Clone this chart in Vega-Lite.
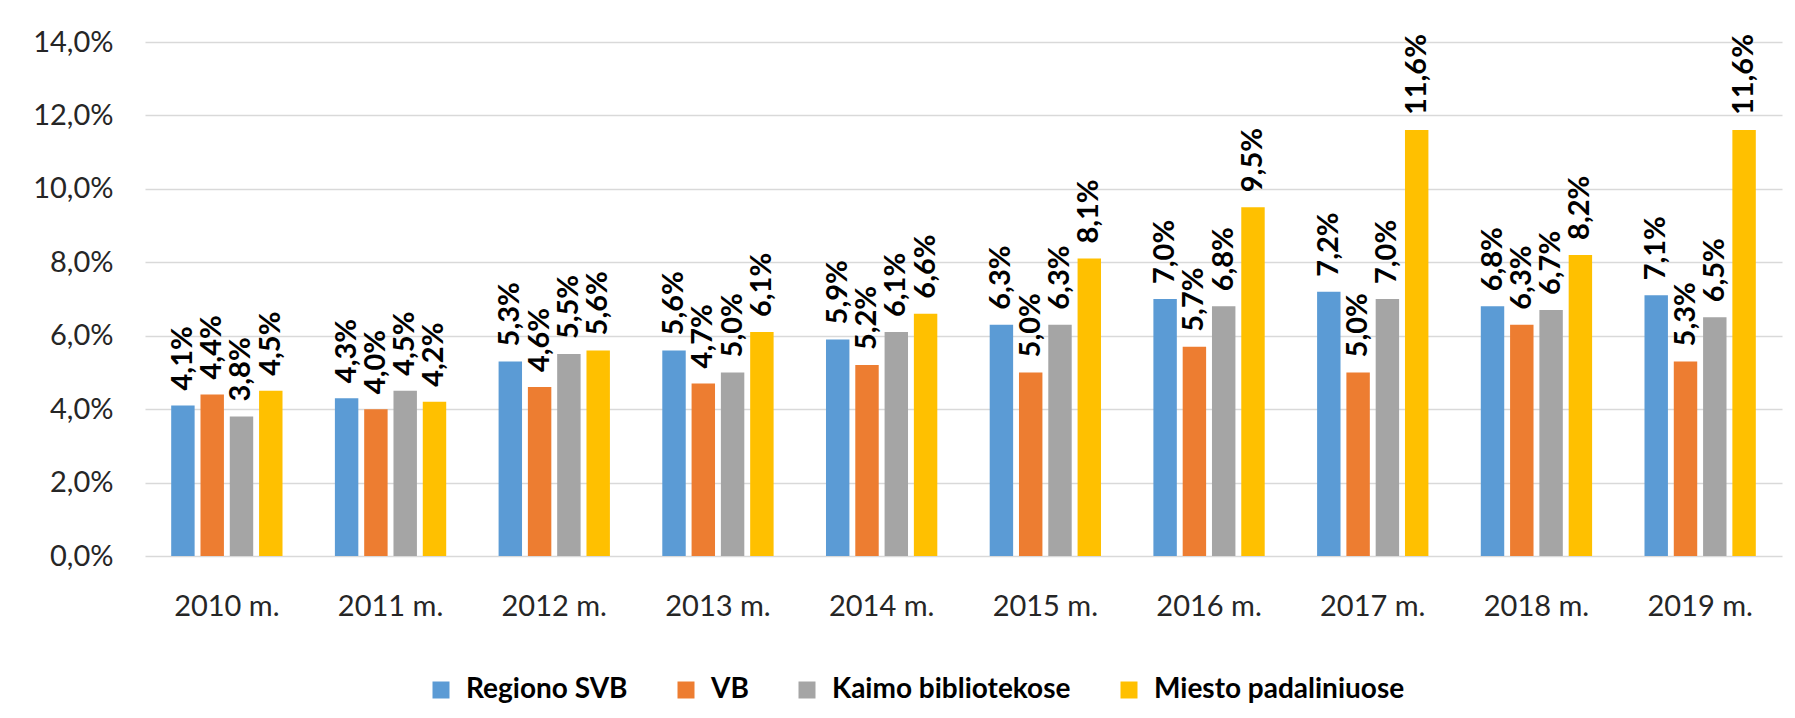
{
  "$schema": "https://vega.github.io/schema/vega-lite/v6.json",
  "width": 1637,
  "height": 514,
  "autosize": {"type": "none"},
  "padding": {"left": 145, "top": 42, "right": 13, "bottom": 162},
  "background": "white",
  "config": {
    "locale": {"number": {"decimal": ",", "thousands": " ", "grouping": [3], "currency": ["", " €"]}},
    "view": {"stroke": null},
    "font": "Lato"
  },
  "data": {
    "values": [
      {"year": "2010 m.", "series": "Regiono SVB", "value": 0.041},
      {"year": "2010 m.", "series": "VB", "value": 0.044},
      {"year": "2010 m.", "series": "Kaimo bibliotekose", "value": 0.038},
      {"year": "2010 m.", "series": "Miesto padaliniuose", "value": 0.045},
      {"year": "2011 m.", "series": "Regiono SVB", "value": 0.043},
      {"year": "2011 m.", "series": "VB", "value": 0.040},
      {"year": "2011 m.", "series": "Kaimo bibliotekose", "value": 0.045},
      {"year": "2011 m.", "series": "Miesto padaliniuose", "value": 0.042},
      {"year": "2012 m.", "series": "Regiono SVB", "value": 0.053},
      {"year": "2012 m.", "series": "VB", "value": 0.046},
      {"year": "2012 m.", "series": "Kaimo bibliotekose", "value": 0.055},
      {"year": "2012 m.", "series": "Miesto padaliniuose", "value": 0.056},
      {"year": "2013 m.", "series": "Regiono SVB", "value": 0.056},
      {"year": "2013 m.", "series": "VB", "value": 0.047},
      {"year": "2013 m.", "series": "Kaimo bibliotekose", "value": 0.050},
      {"year": "2013 m.", "series": "Miesto padaliniuose", "value": 0.061},
      {"year": "2014 m.", "series": "Regiono SVB", "value": 0.059},
      {"year": "2014 m.", "series": "VB", "value": 0.052},
      {"year": "2014 m.", "series": "Kaimo bibliotekose", "value": 0.061},
      {"year": "2014 m.", "series": "Miesto padaliniuose", "value": 0.066},
      {"year": "2015 m.", "series": "Regiono SVB", "value": 0.063},
      {"year": "2015 m.", "series": "VB", "value": 0.050},
      {"year": "2015 m.", "series": "Kaimo bibliotekose", "value": 0.063},
      {"year": "2015 m.", "series": "Miesto padaliniuose", "value": 0.081},
      {"year": "2016 m.", "series": "Regiono SVB", "value": 0.070},
      {"year": "2016 m.", "series": "VB", "value": 0.057},
      {"year": "2016 m.", "series": "Kaimo bibliotekose", "value": 0.068},
      {"year": "2016 m.", "series": "Miesto padaliniuose", "value": 0.095},
      {"year": "2017 m.", "series": "Regiono SVB", "value": 0.072},
      {"year": "2017 m.", "series": "VB", "value": 0.050},
      {"year": "2017 m.", "series": "Kaimo bibliotekose", "value": 0.070},
      {"year": "2017 m.", "series": "Miesto padaliniuose", "value": 0.116},
      {"year": "2018 m.", "series": "Regiono SVB", "value": 0.068},
      {"year": "2018 m.", "series": "VB", "value": 0.063},
      {"year": "2018 m.", "series": "Kaimo bibliotekose", "value": 0.067},
      {"year": "2018 m.", "series": "Miesto padaliniuose", "value": 0.082},
      {"year": "2019 m.", "series": "Regiono SVB", "value": 0.071},
      {"year": "2019 m.", "series": "VB", "value": 0.053},
      {"year": "2019 m.", "series": "Kaimo bibliotekose", "value": 0.065},
      {"year": "2019 m.", "series": "Miesto padaliniuose", "value": 0.116}
    ]
  },
  "encoding": {
    "x": {
      "field": "year", "type": "nominal", "sort": null,
      "scale": {"paddingInner": 0.32, "paddingOuter": 0.16},
      "axis": {"title": null, "labelAngle": 0, "domain": false, "ticks": false, "labelPadding": 36, "labelFontSize": 29, "labelColor": "#262626", "labelFont": "Lato"}
    },
    "xOffset": {
      "field": "series", "type": "nominal",
      "sort": ["Regiono SVB", "VB", "Kaimo bibliotekose", "Miesto padaliniuose"],
      "scale": {"paddingInner": 0.2}
    },
    "y": {
      "field": "value", "type": "quantitative",
      "scale": {"domain": [0, 0.14]},
      "axis": {"title": null, "format": ".1%", "values": [0, 0.02, 0.04, 0.06, 0.08, 0.10, 0.12, 0.14], "domain": false, "ticks": false, "labelPadding": 32, "labelFontSize": 29, "labelColor": "#262626", "labelFont": "Lato", "gridColor": "#d9d9d9", "gridWidth": 1.5}
    }
  },
  "layer": [
    {
      "mark": {"type": "bar"},
      "encoding": {
        "color": {
          "field": "series", "type": "nominal",
          "scale": {"domain": ["Regiono SVB", "VB", "Kaimo bibliotekose", "Miesto padaliniuose"], "range": ["#5B9BD5", "#ED7D31", "#A5A5A5", "#FFC000"]},
          "legend": {
            "title": null, "orient": "none", "direction": "horizontal",
            "legendX": 282, "legendY": 634,
            "symbolType": "square", "symbolSize": 289, "symbolStrokeWidth": 0,
            "labelFontSize": 28, "labelFontWeight": "bold", "labelColor": "#000000", "labelFont": "Lato",
            "labelOffset": 11, "columnPadding": 44, "labelLimit": 500
          }
        }
      }
    },
    {
      "mark": {"type": "text", "angle": 270, "align": "left", "baseline": "middle", "dx": 15, "fontSize": 29, "fontWeight": "bold", "color": "#000000", "font": "Lato"},
      "encoding": {
        "text": {"field": "value", "type": "quantitative", "format": ".1%"}
      }
    }
  ]
}
